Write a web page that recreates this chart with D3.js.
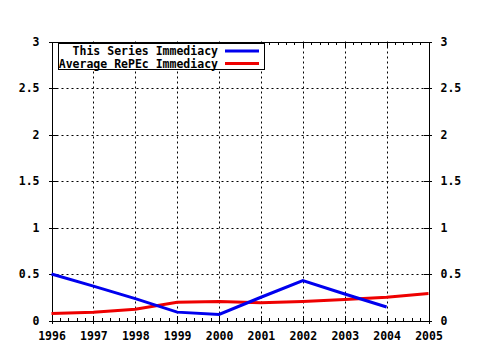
<!DOCTYPE html>
<html><head><meta charset="utf-8">
<script src="https://cdn.jsdelivr.net/npm/d3@7"></script>
<style>body{margin:0;background:#fff}svg{display:block}text{font-family:"DejaVu Sans Mono",monospace;font-weight:bold;font-size:11.5px;fill:#000}</style>
</head><body>
<script>
const years = [1996,1997,1998,1999,2000,2001,2002,2003,2004,2005];
const seriesYears = [1996,1997,1998,1999,2000,2001,2002,2003,2004];
const seriesValues = [0.5,0.37,0.235,0.09,0.065,0.25,0.43,0.285,0.145];
const avgYears = [1996,1997,1998,1999,2000,2001,2002,2003,2004,2005];
const avgValues = [0.075,0.09,0.12,0.195,0.205,0.19,0.205,0.225,0.25,0.29];
const yTicks = [0,0.5,1,1.5,2,2.5,3];
const yTickLabels = ["0","0.5","1","1.5","2","2.5","3"];
const legendLabels = ["This Series Immediacy","Average RePEc Immediacy"];
const colors = ["#0000ee","#ee0000"];

const W=480,H=350, L=51.5, R=428.5, T=41.5, B=320.5;
const svg=d3.select("body").append("svg").attr("width",W).attr("height",H);
const x=d3.scaleLinear().domain([1996,2005]).range([L,R]);
const y=d3.scaleLinear().domain([0,3]).range([B,T]);

// grid
const g=svg.append("g").attr("stroke","#000").attr("stroke-dasharray","2,3").attr("stroke-width",1);
years.slice(1,-1).forEach(v=>g.append("line").attr("x1",Math.round(x(v))+0.5).attr("x2",Math.round(x(v))+0.5).attr("y1",T).attr("y2",B));
yTicks.slice(1,-1).forEach(v=>g.append("line").attr("y1",Math.round(y(v))+0.5).attr("y2",Math.round(y(v))+0.5).attr("x1",L).attr("x2",R));

// minor ticks
const minor=[];
for(let i=0;i<years.length-1;i++) for(let k=1;k<5;k++) minor.push(years[i]+k/5);
const mt=svg.append("g").attr("stroke","#000").attr("shape-rendering","crispEdges");
minor.forEach(v=>{const px=Math.round(x(v))+0.5;
  mt.append("line").attr("x1",px).attr("x2",px).attr("y1",B).attr("y2",B-3);
  mt.append("line").attr("x1",px).attr("x2",px).attr("y1",T).attr("y2",T+3);});

// axes (major ticks cross the frame)
const fmt=(d,i)=>yTickLabels[yTicks.indexOf(d)];
const ax=[
 svg.append("g").attr("transform",`translate(0,${B})`).call(d3.axisBottom(x).tickValues(years).tickFormat(d3.format("d")).tickSizeInner(-5).tickSizeOuter(0).tickPadding(11)),
 svg.append("g").attr("transform",`translate(0,${T})`).call(d3.axisTop(x).tickValues(years).tickFormat("").tickSizeInner(-5).tickSizeOuter(0)),
 svg.append("g").attr("transform",`translate(${L},0)`).call(d3.axisLeft(y).tickValues(yTicks).tickFormat(fmt).tickSizeInner(-5).tickSizeOuter(0).tickPadding(12)),
 svg.append("g").attr("transform",`translate(${R},0)`).call(d3.axisRight(y).tickValues(yTicks).tickFormat(fmt).tickSizeInner(-5).tickSizeOuter(0).tickPadding(12))
];
ax.forEach(a=>{a.selectAll("path,line").attr("stroke","#000").attr("shape-rendering","crispEdges");
  a.selectAll("text").style("font-family",'"DejaVu Sans Mono",monospace').style("font-weight","bold").style("font-size","11.5px");});
// outward stubs
ax[0].selectAll(".tick").append("line").attr("y1",0).attr("y2",3).attr("stroke","#000").attr("shape-rendering","crispEdges");
ax[2].selectAll(".tick").append("line").attr("x1",0).attr("x2",-3).attr("stroke","#000").attr("shape-rendering","crispEdges");
ax[3].selectAll(".tick").append("line").attr("x1",0).attr("x2",3).attr("stroke","#000").attr("shape-rendering","crispEdges");

// lines
const line=d3.line().x(d=>x(d[0])).y(d=>y(d[1]));
svg.append("path").datum(avgYears.map((v,i)=>[v,avgValues[i]])).attr("d",line).attr("fill","none").attr("stroke",colors[1]).attr("stroke-width",3);
svg.append("path").datum(seriesYears.map((v,i)=>[v,seriesValues[i]])).attr("d",line).attr("fill","none").attr("stroke",colors[0]).attr("stroke-width",3);

// legend
const lg=svg.append("g");
lg.append("rect").attr("x",58.5).attr("y",43.5).attr("width",206).attr("height",26).attr("fill","#fff").attr("stroke","#000");
legendLabels.forEach((t,i)=>{
  const cy=51+i*12.5;
  lg.append("text").attr("x",218).attr("y",cy).attr("dy","0.35em").attr("text-anchor","end").text(t);
  lg.append("line").attr("x1",225).attr("x2",259).attr("y1",cy).attr("y2",cy).attr("stroke",colors[i]).attr("stroke-width",3);
});
</script>
</body></html>
